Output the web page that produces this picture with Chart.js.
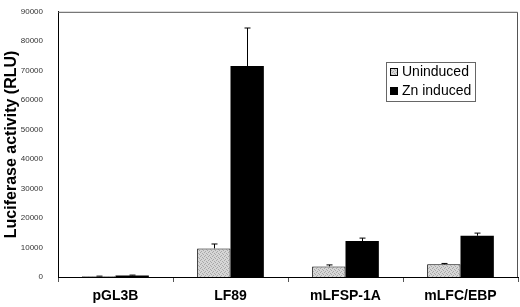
<!DOCTYPE html>
<html>
<head>
<meta charset="utf-8">
<script src="https://cdn.jsdelivr.net/npm/chart.js@4.4.1/dist/chart.umd.min.js"></script>
<style>
  html, body { margin: 0; padding: 0; background: #fff; }
  #wrap { width: 520px; height: 307px; }
</style>
</head>
<body>
<div id="wrap"><canvas id="lucChart" width="520" height="307"></canvas></div>
<script>
// Values
const constructs = ['pGL3B', 'LF89', 'mLFSP-1A', 'mLFC/EBP'];
const uninduced = [250, 9700, 3600, 4300];
const uninducedErr = [300, 11200, 4100, 4600];   // top of error bar
const znInduced = [550, 71600, 12200, 14000];
const znInducedErr = [650, 84500, 13200, 14900];
const yTicks = [0, 10000, 20000, 30000, 40000, 50000, 60000, 70000, 80000, 90000];

// stippled light grey fill for the uninduced bars
function makeStipple() {
    const c = document.createElement('canvas');
    c.width = 4; c.height = 4;
    const g = c.getContext('2d');
    g.fillStyle = '#d6d6d6';
    g.fillRect(0, 0, 4, 4);
    g.fillStyle = '#a8a8a8';
    g.fillRect(0, 0, 1, 1);
    g.fillRect(2, 1, 1, 1);
    g.fillRect(1, 3, 1, 1);
    g.fillRect(3, 2, 1, 1);
    return g.createPattern(c, 'repeat');
}
const stipple = makeStipple();

// error bars (upper only) drawn on top of the bars
const errorBars = {
    id: 'errorBars',
    afterDatasetsDraw(chart) {
        const ctx = chart.ctx;
        const y = chart.scales.y;
        const tops = [uninducedErr, znInducedErr];
        ctx.save();
        ctx.strokeStyle = '#000';
        ctx.lineWidth = 1;
        chart.data.datasets.forEach((ds, di) => {
            chart.getDatasetMeta(di).data.forEach((bar, i) => {
                const yTop = y.getPixelForValue(tops[di][i]);
                const x = Math.round(bar.x) + 0.5;
                ctx.beginPath();
                ctx.moveTo(x, bar.y);
                ctx.lineTo(x, yTop);
                ctx.moveTo(x - 3, yTop);
                ctx.lineTo(x + 3, yTop);
                ctx.stroke();
            });
        });
        ctx.restore();
    }
};

// plot frame (top and right) plus boxed legend inside the plot
const frameAndLegend = {
    id: 'frameAndLegend',
    afterDraw(chart) {
        const ctx = chart.ctx;
        const a = chart.chartArea;
        ctx.save();
        ctx.strokeStyle = '#555';
        ctx.lineWidth = 1;
        ctx.beginPath();
        ctx.moveTo(a.left, a.top + 0.5);
        ctx.lineTo(a.right - 0.5, a.top + 0.5);
        ctx.lineTo(a.right - 0.5, a.bottom);
        ctx.stroke();

        // legend box
        const lx = 386, ly = 62, lw = 89, lh = 39;
        ctx.fillStyle = '#fff';
        ctx.fillRect(lx, ly, lw, lh);
        ctx.strokeStyle = '#666';
        ctx.strokeRect(lx + 0.5, ly + 0.5, lw, lh);
        const fills = [stipple, '#000'];
        ctx.font = '14px "Liberation Sans", Arial, sans-serif';
        ctx.textBaseline = 'middle';
        chart.data.datasets.forEach((ds, i) => {
            const rowY = ly + 10 + i * 19;
            ctx.fillStyle = fills[i];
            ctx.fillRect(lx + 4, rowY - 4, 8, 8);
            ctx.strokeStyle = '#000';
            ctx.strokeRect(lx + 4.5, rowY - 3.5, 7, 7);
            ctx.fillStyle = '#000';
            ctx.fillText(ds.label, lx + 16, rowY);
        });
        ctx.restore();
    }
};

const ctx = document.getElementById('lucChart').getContext('2d');
const lucChart = new Chart(ctx, {
    type: 'bar',
    data: {
        labels: constructs,
        datasets: [{
            label: 'Uninduced',
            data: uninduced,
            backgroundColor: stipple,
            borderColor: '#000',
            borderWidth: 1,
            borderSkipped: 'bottom'
        }, {
            label: 'Zn induced',
            data: znInduced,
            backgroundColor: '#000',
            borderColor: '#000',
            borderWidth: 0
        }]
    },
    options: {
        responsive: false,
        animation: false,
        devicePixelRatio: 1,
        layout: { padding: { top: 5, right: 2, left: 0, bottom: 0 } },
        datasets: {
            bar: { categoryPercentage: 0.58, barPercentage: 1.0 }
        },
        plugins: {
            legend: { display: false },
            tooltip: { enabled: false }
        },
        scales: {
            x: {
                afterFit(scale) { scale.height = 30; },
                grid: {
                    display: true,
                    offset: true,
                    drawOnChartArea: false,
                    tickLength: 5,
                    color: '#555'
                },
                border: { display: true, color: '#000', width: 1 },
                ticks: {
                    color: '#000',
                    padding: 6,
                    font: { family: '"Liberation Sans", Arial, sans-serif', size: 14, weight: 'bold' }
                }
            },
            y: {
                min: 0,
                max: 90000,
                afterFit(scale) { scale.width = 58; },
                afterBuildTicks(scale) {
                    scale.ticks = yTicks.map(v => ({ value: v }));
                },
                grid: { display: false },
                border: { display: true, color: '#000', width: 1 },
                ticks: {
                    color: '#333',
                    padding: 7,
                    callback: v => String(v),
                    font: { family: '"Liberation Sans", Arial, sans-serif', size: 8 }
                },
                title: {
                    display: true,
                    text: 'Luciferase activity (RLU)',
                    color: '#000',
                    padding: { top: 2, bottom: 0 },
                    font: { family: '"Liberation Sans", Arial, sans-serif', size: 16, weight: 'bold' }
                }
            }
        }
    },
    plugins: [errorBars, frameAndLegend]
});
</script>
</body>
</html>
